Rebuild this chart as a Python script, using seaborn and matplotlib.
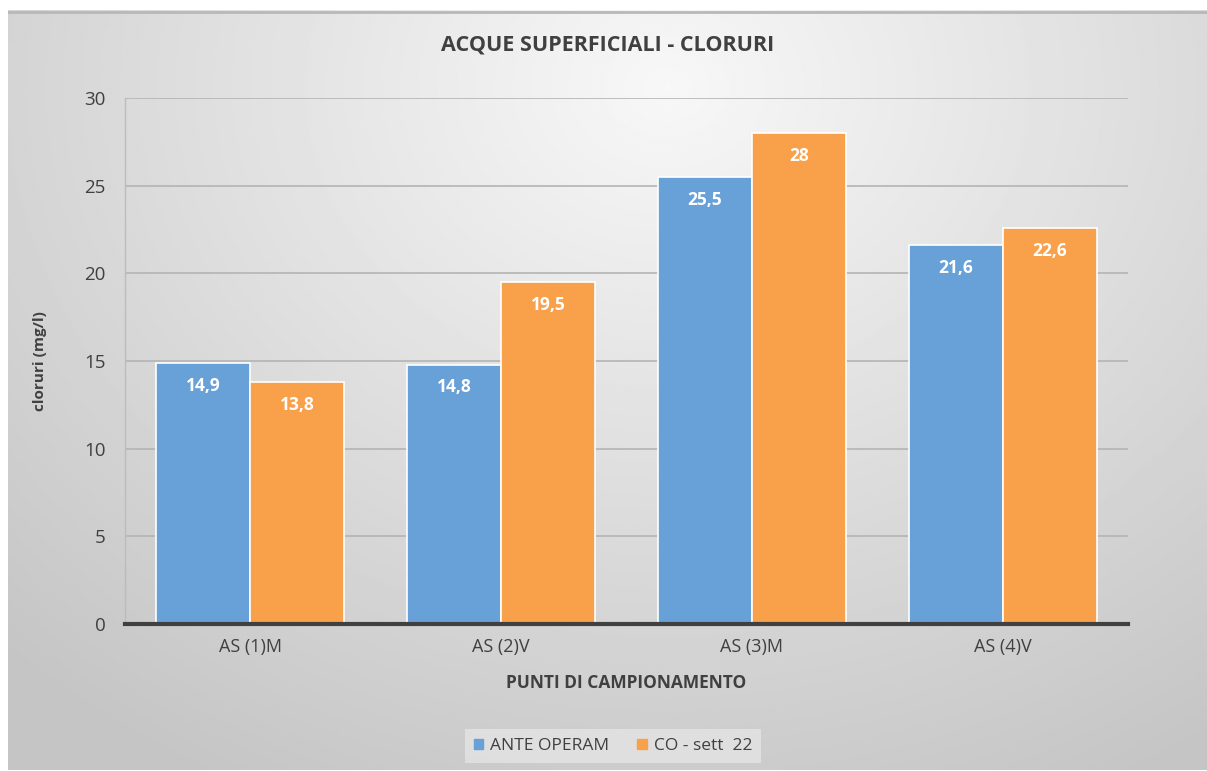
import numpy as np
import pandas as pd
import matplotlib
matplotlib.use('Agg')
import matplotlib.pyplot as plt
import seaborn as sns

# Data
punti = ["AS (1)M", "AS (2)V", "AS (3)M", "AS (4)V"]
ante_operam = [14.9, 14.8, 25.5, 21.6]
co_sett22 = [13.8, 19.5, 28.0, 22.6]
series_names = ["ANTE OPERAM", "CO - sett  22"]
colors = ["#68A1D7", "#F9A04A"]

df = pd.DataFrame({
    "punto": punti * 2,
    "valore": ante_operam + co_sett22,
    "serie": [series_names[0]] * 4 + [series_names[1]] * 4,
})

sns.set_style("white")
plt.rcParams['font.family'] = ['Open Sans', 'DejaVu Sans']

fig = plt.figure(figsize=(12.07, 7.71), dpi=100)
fig.patch.set_facecolor("white")

# Background panel with radial gradient
bg = fig.add_axes([8 / 1207, 1 / 771, 1199 / 1207, 760 / 771], zorder=0)
yy, xx = np.mgrid[0:1:300j, 0:1:500j]
d = np.sqrt(((xx - 0.55) / 0.8) ** 2 + ((yy - 0.1) / 1.05) ** 2)
shade = np.clip(0.97 - 0.2 * d, 0.77, 1.0)
bg.imshow(shade, cmap="gray", vmin=0, vmax=1, aspect="auto", extent=[0, 1, 1, 0])
bg.set_xlim(0, 1)
bg.set_ylim(1, 0)
bg.axis("off")
bg.plot([0, 1], [0.002, 0.002], color="#b8b8b8", lw=2)

ax = fig.add_axes([125 / 1207, 1 - 624 / 771, 1003 / 1207, 526 / 771], zorder=1)
ax.patch.set_alpha(0)

sns.barplot(data=df, x="punto", y="valore", hue="serie", palette=colors,
            width=0.75, edgecolor="white", linewidth=1.2, saturation=1, ax=ax)

ax.set_ylim(0, 30)
ax.set_yticks(range(0, 31, 5))
ax.yaxis.grid(True, color="#b4b4b4", lw=1.2)
ax.set_axisbelow(True)
for s in ["top", "right"]:
    ax.spines[s].set_visible(False)
ax.spines["left"].set_color("#bcbcbc")
ax.spines["left"].set_linewidth(1)
ax.spines["bottom"].set_color("#404040")
ax.spines["bottom"].set_linewidth(3)
ax.tick_params(axis="x", length=0, labelsize=13, colors="#404040", pad=10)
ax.tick_params(axis="y", length=0, labelsize=13.5, colors="#404040", pad=14)

for cont in ax.containers:
    labels = [f"{b.get_height():g}".replace(".", ",") for b in cont]
    ax.bar_label(cont, labels=labels, padding=-23, color="white",
                 fontsize=12.5, fontweight="bold")

ax.set_xlabel("PUNTI DI CAMPIONAMENTO", fontsize=12.5, fontweight="bold",
              color="#404040", labelpad=13)
ax.set_ylabel("cloruri (mg/l)", fontsize=11, fontweight="bold",
              color="#404040", labelpad=27)

fig.text(0.5 * (8 + 1207) / 1207, 1 - 45 / 771, "ACQUE SUPERFICIALI - CLORURI",
         ha="center", va="center", fontsize=15.5, fontweight="bold", color="#404040")

ax.legend_.remove()
handles = [plt.Rectangle((0, 0), 1, 1, color=c) for c in colors]
leg = fig.legend(handles, series_names, loc="center", bbox_to_anchor=(613 / 1207, 1 - 746 / 771),
                 ncol=2, frameon=True, fontsize=12.5, handlelength=0.55, handleheight=0.55,
                 handletextpad=0.4, columnspacing=1.6, borderpad=0.5, fancybox=False)
leg.get_frame().set_facecolor("#e4e4e4")
leg.get_frame().set_edgecolor("none")
for t in leg.get_texts():
    t.set_color("#404040")

fig.savefig("out.png", dpi=100)
plt.close(fig)
